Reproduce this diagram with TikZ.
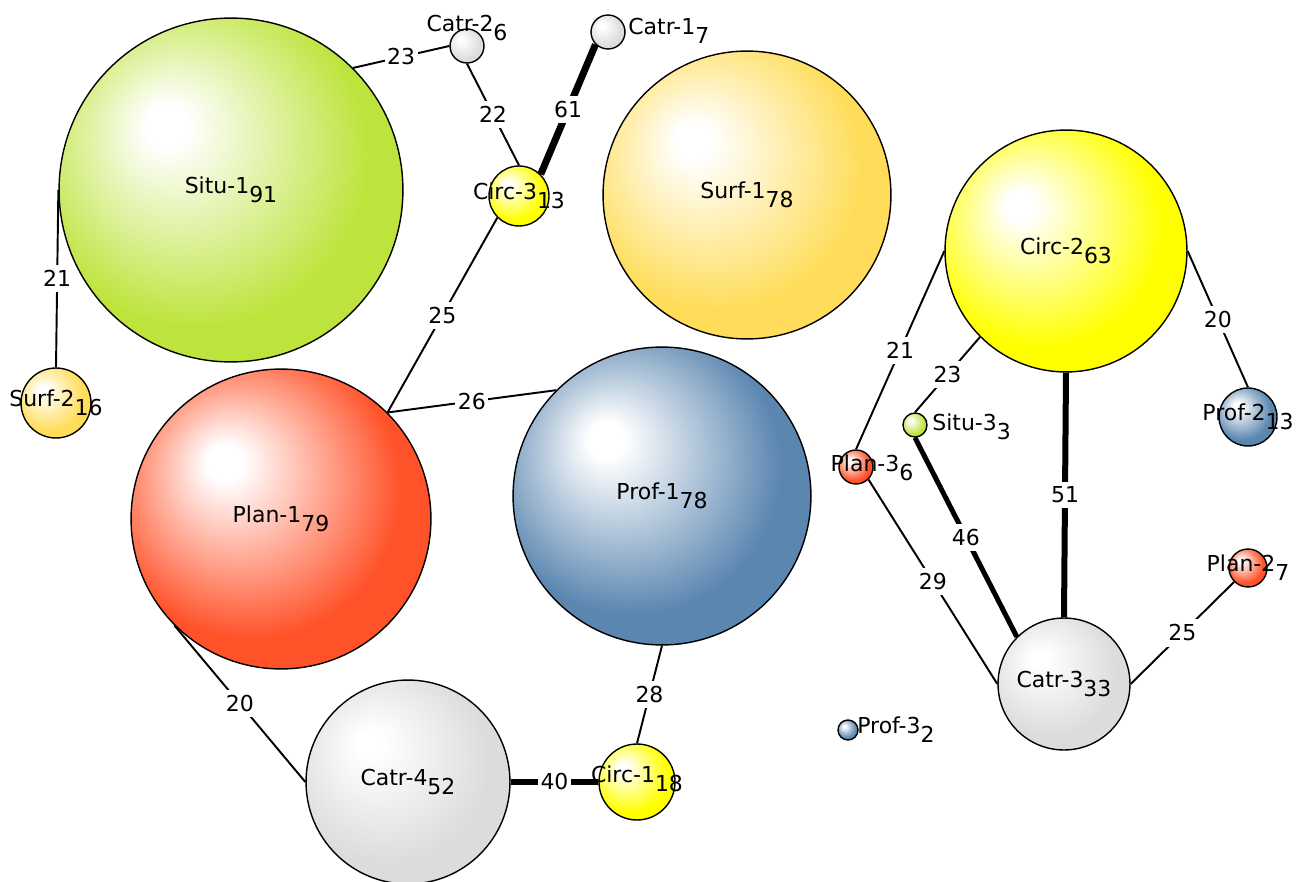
\documentclass[tikz,border=0pt]{standalone}
\usepackage{fontspec}
\setmainfont{DejaVu Sans}
\usetikzlibrary{backgrounds}

\definecolor{situcol}{HTML}{BDE43C}
\definecolor{surfcol}{HTML}{FFDD5A}
\definecolor{circcol}{HTML}{FFFF00}
\definecolor{plancol}{HTML}{FF5229}
\definecolor{profcol}{HTML}{5A86B0}
\definecolor{catrcol}{HTML}{DCDCDC}

\pgfdeclareradialshading{situball}{\pgfpoint{-10bp}{10bp}}{color(0bp)=(white); color(3bp)=(white); color(25bp)=(situcol); color(50bp)=(situcol)}
\pgfdeclareradialshading{surfball}{\pgfpoint{-10bp}{10bp}}{color(0bp)=(white); color(3bp)=(white); color(25bp)=(surfcol); color(50bp)=(surfcol)}
\pgfdeclareradialshading{circball}{\pgfpoint{-10bp}{10bp}}{color(0bp)=(white); color(3bp)=(white); color(25bp)=(circcol); color(50bp)=(circcol)}
\pgfdeclareradialshading{planball}{\pgfpoint{-10bp}{10bp}}{color(0bp)=(white); color(3bp)=(white); color(25bp)=(plancol); color(50bp)=(plancol)}
\pgfdeclareradialshading{profball}{\pgfpoint{-10bp}{10bp}}{color(0bp)=(white); color(3bp)=(white); color(25bp)=(profcol); color(50bp)=(profcol)}
\pgfdeclareradialshading{catrball}{\pgfpoint{-10bp}{10bp}}{color(0bp)=(white); color(3bp)=(white); color(25bp)=(catrcol); color(50bp)=(catrcol)}

\tikzset{
  bub/.style ={circle, draw, line width=0.8pt, inner sep=0pt, minimum size={#1*0.04cm}},
  txt/.style ={font=\fontsize{12.5}{14}\selectfont, inner sep=0pt},
  lnk/.style ={line width=1.1pt},
  wt/.style  ={fill=white, font=\fontsize{12.5}{14}\selectfont, inner xsep=1.5pt, inner ysep=3pt},
}
\newcommand{\nlab}[2]{#1\raisebox{-5pt}{#2}}

\begin{document}
\begin{tikzpicture}[x=0.02cm, y=-0.02cm]
  \useasboundingbox (0,0) rectangle (1306,882);

  % spheres
  \node[bub=172, shading=situball] (situ1) at (231,190)  {};
  \node[bub=144, shading=surfball] (surf1) at (747,195)  {};
  \node[bub=121, shading=circball] (circ2) at (1066,251) {};
  \node[bub=150, shading=planball] (plan1) at (281,519)  {};
  \node[bub=149, shading=profball] (prof1) at (662,496)  {};
  \node[bub=102, shading=catrball] (catr4) at (408,782)  {};
  \node[bub=38,  shading=circball] (circ1) at (637,782)  {};
  \node[bub=66,  shading=catrball] (catr3) at (1064,684) {};
  \node[bub=30,  shading=circball] (circ3) at (519,196)  {};
  \node[bub=17,  shading=catrball] (catr2) at (467,46)   {};
  \node[bub=17,  shading=catrball] (catr1) at (608,32)   {};
  \node[bub=35,  shading=surfball] (surf2) at (56,403)   {};
  \node[bub=29,  shading=profball] (prof2) at (1248,417) {};
  \node[bub=19,  shading=planball] (plan2) at (1248,568) {};
  \node[bub=17,  shading=planball] (plan3) at (856,467)  {};
  \node[bub=12,  shading=situball] (situ3) at (915,425)  {};
  \node[bub=10,  shading=profball] (prof3) at (848,730)  {};

  % names
  \node[txt] (situ1-t) at (situ1) {\nlab{Situ-1}{91}};
  \node[txt] (surf1-t) at (surf1) {\nlab{Surf-1}{78}};
  \node[txt] (circ2-t) at (circ2) {\nlab{Circ-2}{63}};
  \node[txt] (plan1-t) at (plan1) {\nlab{Plan-1}{79}};
  \node[txt] (prof1-t) at (prof1) {\nlab{Prof-1}{78}};
  \node[txt] (catr4-t) at (catr4) {\nlab{Catr-4}{52}};
  \node[txt] (circ1-t) at (637,779) {\nlab{Circ-1}{18}};
  \node[txt] (catr3-t) at (catr3) {\nlab{Catr-3}{33}};
  \node[txt] (circ3-t) at (circ3) {\nlab{Circ-3}{13}};
  \node[txt] (catr2-t) at (467,28) {\nlab{Catr-2}{6}};
  \node[txt, anchor=west] (catr1-t) at (628,31) {\nlab{Catr-1}{7}};
  \node[txt] (surf2-t) at (surf2) {\nlab{Surf-2}{16}};
  \node[txt] (prof2-t) at (prof2) {\nlab{Prof-2}{13}};
  \node[txt] (plan2-t) at (plan2) {\nlab{Plan-2}{7}};
  \node[txt] (plan3-t) at (872,468) {\nlab{Plan-3}{6}};
  \node[txt, anchor=west] (situ3-t) at (932,427) {\nlab{Situ-3}{3}};
  \node[txt, anchor=west] (prof3-t) at (857,730) {\nlab{Prof-3}{2}};

  % links
  \begin{scope}[on background layer]
    \draw[lnk] (situ1.45) -- node[wt] {23} (catr2.west);
    \draw[lnk] (catr2.south) -- node[wt] {22} (circ3.north);
    \draw[lnk, line width=0.14cm] (catr1.225) -- node[wt] {61} (circ3.45);
    \draw[lnk] (situ1.west) -- node[wt] {21} (surf2.north);
    \draw[lnk] (circ3.225) -- node[wt] {25} (plan1.45);
    \draw[lnk] (plan1.45) -- node[wt] {26} (prof1.135);
    \draw[lnk] (plan1.225) -- node[wt] {20} (catr4.west);
    \draw[lnk, line width=0.12cm] (catr4.east) -- node[wt] {40} (circ1.west);
    \draw[lnk] (prof1.south) -- node[wt] {28} (circ1.north);
    \draw[lnk] (circ2.west) -- node[wt] {21} (plan3.north);
    \draw[lnk] (circ2.225) -- node[wt] {23} (situ3.north);
    \draw[lnk] (circ2.east) -- node[wt] {20} (prof2.north);
    \draw[lnk, line width=0.12cm] (circ2.south) -- node[wt] {51} (catr3.north);
    \draw[lnk, line width=0.1cm] (situ3.south) -- node[wt] {46} (catr3.135);
    \draw[lnk] (plan3.-45) -- node[wt] {29} (catr3.west);
    \draw[lnk] (catr3.east) -- node[wt] {25} (plan2.225);
  \end{scope}
\end{tikzpicture}
\end{document}
